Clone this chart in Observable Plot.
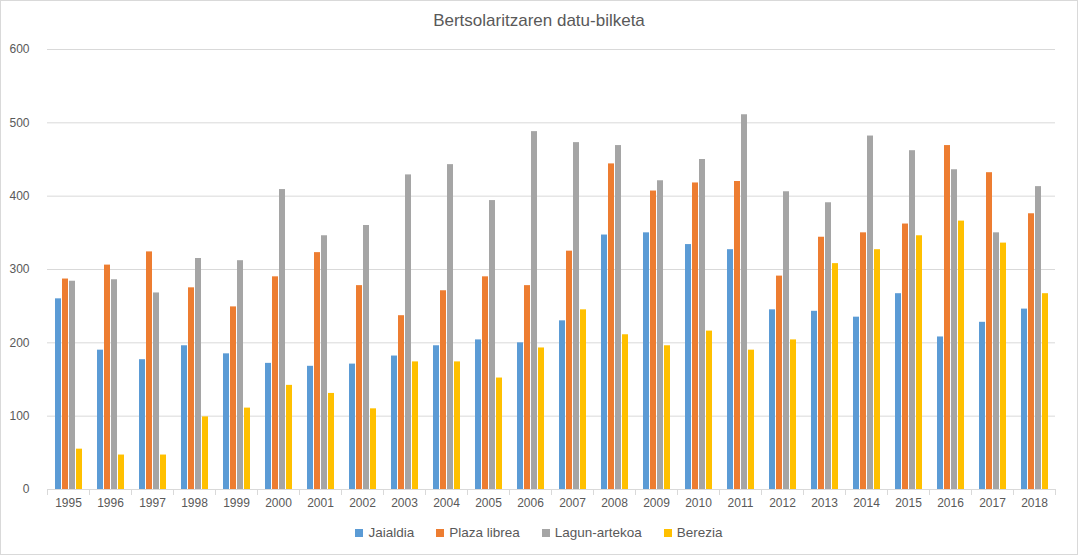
<!DOCTYPE html>
<html>
<head>
<meta charset="utf-8">
<script src="https://cdn.jsdelivr.net/npm/d3@7"></script>
<script src="https://cdn.jsdelivr.net/npm/@observablehq/plot@0.6"></script>
<style>
  html, body { margin: 0; padding: 0; background: #fff; }
  #chart {
    position: relative; width: 1076px; height: 553px;
    border: 1px solid #d9d9d9; background: #fff;
    font-family: "Liberation Sans", "DejaVu Sans", sans-serif; color: #595959;
    overflow: hidden;
  }
  #title { height: 35px; line-height: 40px; text-align: center; font-size: 17px; color: #595959; }
  #legend { display: flex; justify-content: center; gap: 22px; font-size: 13.5px; margin-top: 9px; }
  #legend span.item { display: flex; align-items: center; }
  #legend span.sw { width: 8px; height: 8px; display: inline-block; margin-right: 5px; }
</style>
</head>
<body>
<div id="chart">
  <div id="title">Bertsolaritzaren datu-bilketa</div>
  <div id="plot"></div>
  <div id="legend"></div>
</div>
<script>
const years = ["1995","1996","1997","1998","1999","2000","2001","2002","2003","2004","2005","2006","2007","2008","2009","2010","2011","2012","2013","2014","2015","2016","2017","2018"];
const seriesNames = ["Jaialdia", "Plaza librea", "Lagun-artekoa", "Berezia"];
const seriesColors = ["#5B9BD5", "#ED7D31", "#A5A5A5", "#FFC000"];
const jaialdia     = [260,190,177,196,185,172,168,171,182,196,204,200,230,347,350,334,327,245,243,235,267,208,228,246];
const plazaLibrea  = [287,306,324,275,249,290,323,278,237,271,290,278,325,444,407,418,420,291,344,350,362,469,432,376];
const lagunArtekoa = [284,286,268,315,312,409,346,360,429,443,394,488,473,469,421,450,511,406,391,482,462,436,350,413];
const berezia      = [55,47,47,99,111,142,131,110,174,174,152,193,245,211,196,216,190,204,308,327,346,366,336,267];
const yTicks = [0,100,200,300,400,500,600];

const seriesValues = [jaialdia, plazaLibrea, lagunArtekoa, berezia];
const data = [];
years.forEach((yr, i) => {
  seriesNames.forEach((s, j) => data.push({year: yr, series: s, value: seriesValues[j][i]}));
});

const H = 480, MT = 13, MB = 27;
const plot = Plot.plot({
  width: 1076,
  height: H,
  marginTop: MT,
  marginBottom: MB,
  marginLeft: 38,
  marginRight: 14,
  style: {fontFamily: "Liberation Sans, DejaVu Sans, sans-serif", fontSize: "12px", color: "#595959", background: "transparent"},
  fx: {domain: years, padding: 0, label: null},
  x: {domain: seriesNames, paddingInner: 0.17, paddingOuter: 0.87, axis: null},
  y: {domain: [0, 600], label: null},
  color: {domain: seriesNames, range: seriesColors},
  marks: [
    Plot.gridY(yTicks, {stroke: "#d9d9d9", strokeOpacity: 1}),
    Plot.axisY(yTicks, {tickSize: 0, tickPadding: 10, dx: -8, label: null}),
    Plot.axisFx({anchor: "bottom", tickSize: 0, tickPadding: 9, label: null}),
    Plot.ruleY([0], {stroke: "#d9d9d9"}),
    Plot.frame({anchor: "left", stroke: "#d9d9d9", insetTop: H - MT - MB, insetBottom: -5}),
    Plot.frame({anchor: "right", stroke: "#d9d9d9", insetTop: H - MT - MB, insetBottom: -5}),
    Plot.barY(data, {fx: "year", x: "series", y: "value", fill: "series"})
  ]
});
document.getElementById("plot").appendChild(plot);

const legend = document.getElementById("legend");
seriesNames.forEach((s, j) => {
  const it = document.createElement("span");
  it.className = "item";
  const sw = document.createElement("span");
  sw.className = "sw";
  sw.style.background = seriesColors[j];
  it.appendChild(sw);
  it.appendChild(document.createTextNode(s));
  legend.appendChild(it);
});
</script>
</body>
</html>
